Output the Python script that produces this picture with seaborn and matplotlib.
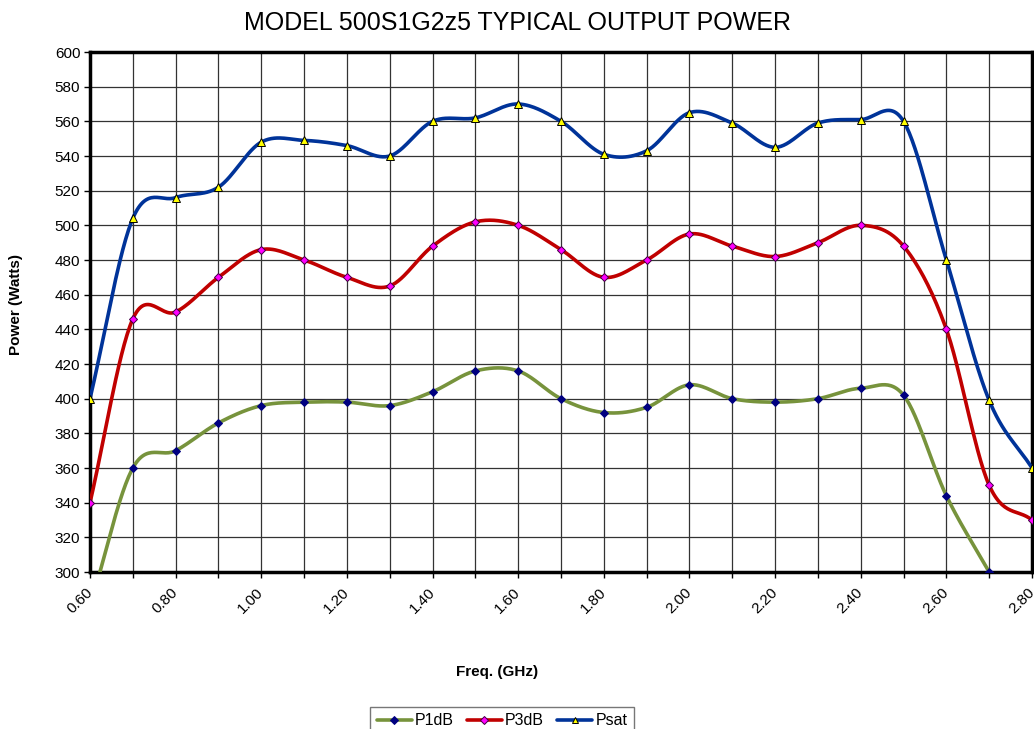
import matplotlib
matplotlib.use("Agg")
import matplotlib.pyplot as plt
from matplotlib.lines import Line2D
import numpy as np
import pandas as pd
import seaborn as sns

# frequency points (GHz)
freq = [0.6, 0.7, 0.8, 0.9, 1.0, 1.1, 1.2, 1.3, 1.4, 1.5, 1.6, 1.7,
        1.8, 1.9, 2.0, 2.1, 2.2, 2.3, 2.4, 2.5, 2.6, 2.7, 2.8]

# power readings (Watts)
p1db = [280, 360, 370, 386, 396, 398, 398, 396, 404, 416, 416, 400,
        392, 395, 408, 400, 398, 400, 406, 402, 344, 300, np.nan]
p3db = [340, 446, 450, 470, 486, 480, 470, 465, 488, 502, 500, 486,
        470, 480, 495, 488, 482, 490, 500, 488, 440, 350, 330]
psat = [400, 504, 516, 522, 548, 549, 546, 540, 560, 562, 570, 560,
        541, 543, 565, 559, 545, 559, 561, 560, 480, 399, 360]

x_ticks = [0.6, 0.8, 1.0, 1.2, 1.4, 1.6, 1.8, 2.0, 2.2, 2.4, 2.6, 2.8]


def smooth(x, y, n=30):
    # Excel style smoothed line (Catmull-Rom / cubic Hermite through the points)
    x = np.asarray(x, float)
    y = np.asarray(y, float)
    keep = ~np.isnan(y)
    x, y = x[keep], y[keep]
    m = np.empty_like(y)
    m[1:-1] = (y[2:] - y[:-2]) / (x[2:] - x[:-2])
    m[0] = (y[1] - y[0]) / (x[1] - x[0])
    m[-1] = (y[-1] - y[-2]) / (x[-1] - x[-2])
    xs, ys = [], []
    for i in range(len(x) - 1):
        h = x[i + 1] - x[i]
        t = np.linspace(0, 1, n, endpoint=False)
        h00 = 2 * t**3 - 3 * t**2 + 1
        h10 = t**3 - 2 * t**2 + t
        h01 = -2 * t**3 + 3 * t**2
        h11 = t**3 - t**2
        xs.append(x[i] + t * h)
        ys.append(h00 * y[i] + h10 * h * m[i] + h01 * y[i + 1] + h11 * h * m[i + 1])
    xs.append([x[-1]])
    ys.append([y[-1]])
    return np.concatenate(xs), np.concatenate(ys)


sns.set_style("white")
plt.rcParams["font.family"] = ["Liberation Sans", "DejaVu Sans"]
plt.rcParams["text.color"] = "black"
plt.rcParams["axes.labelcolor"] = "black"
plt.rcParams["xtick.color"] = "black"
plt.rcParams["ytick.color"] = "black"

fig = plt.figure(figsize=(10.34, 7.29), dpi=100)
ax = fig.add_axes([90 / 1034, 1 - 572 / 729, 942 / 1034, 520 / 729])

series = [
    ("P1dB", p1db, "#77933C", "D", "#000080", "#000080", 4.2),
    ("P3dB", p3db, "#C00000", "D", "#FF00FF", "#400040", 4.2),
    ("Psat", psat, "#003399", "^", "#FFFF00", "#000000", 5.2),
]

handles = []
for name, vals, lc, mk, mfc, mec, ms in series:
    sx, sy = smooth(freq, vals)
    sns.lineplot(x=sx, y=sy, ax=ax, color=lc, linewidth=2.6, sort=False,
                 estimator=None, zorder=3)
    df = pd.DataFrame({"freq": freq, "power": vals}).dropna()
    ax.plot(df["freq"], df["power"], linestyle="none", marker=mk, markersize=ms,
            markerfacecolor=mfc, markeredgecolor=mec, markeredgewidth=0.7, zorder=4)
    handles.append(Line2D([0], [0], color=lc, linewidth=2.6, marker=mk,
                          markersize=ms - 0.5, markerfacecolor=mfc,
                          markeredgecolor=mec, markeredgewidth=0.7, label=name))

ax.set_xlim(0.6, 2.8)
ax.set_ylim(300, 600)
ax.set_xticks(x_ticks)
ax.set_xticklabels([f"{v:.2f}" for v in x_ticks], rotation=45, fontsize=11,
                   ha="right", va="center", rotation_mode="anchor")
ax.set_xticks(freq, minor=True)
ax.set_yticks(np.arange(300, 601, 20))
ax.tick_params(axis="y", labelsize=11, direction="out", length=4, width=1,
               left=True, pad=3)
ax.tick_params(axis="x", which="both", direction="out", length=4, width=1,
               bottom=True, pad=9)
ax.grid(True, which="both", color="#333333", linewidth=0.9)
ax.set_axisbelow(True)
for sp in ax.spines.values():
    sp.set_color("black")
    sp.set_linewidth(2.5)

ax.set_xlabel("Freq. (GHz)", fontsize=11, fontweight="bold")
ax.xaxis.set_label_coords(0.432, -0.178)
ax.set_ylabel("Power (Watts)", fontsize=11, fontweight="bold")
ax.yaxis.set_label_coords(-0.071, 0.515)

fig.text(0.5, 1 - 23 / 729, "MODEL 500S1G2z5 TYPICAL OUTPUT POWER",
         ha="center", va="center", fontsize=18, color="black")

leg = fig.legend(handles=handles, loc="upper center", ncol=3,
                 bbox_to_anchor=(0.4855, 1 - 699 / 729), fontsize=11.5,
                 frameon=True, fancybox=False, handlelength=2.2,
                 handletextpad=0.2, columnspacing=0.8, borderpad=0.4)
leg.get_frame().set_edgecolor("#555555")
leg.get_frame().set_linewidth(1.0)

fig.savefig("out.png", dpi=100)
